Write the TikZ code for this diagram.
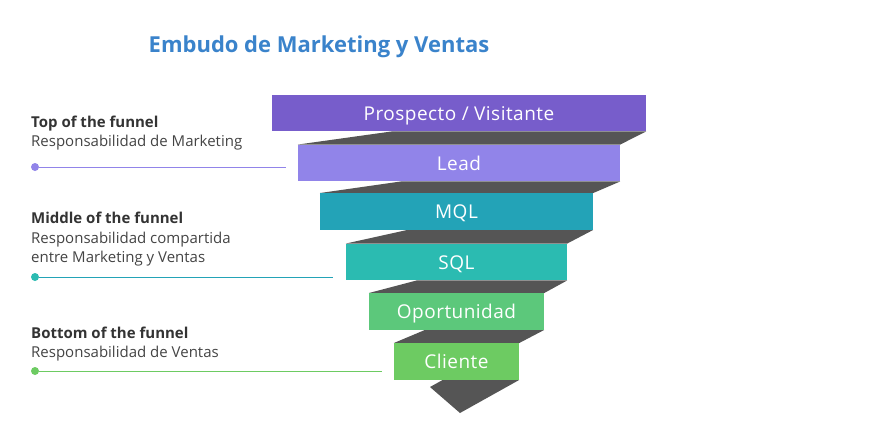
\documentclass[tikz,border=0pt]{standalone}
\usepackage{fontspec}
\setmainfont{Open Sans}[Ligatures=NoCommon]
\newfontfamily\barfont{Open Sans}[LetterSpace=2.5]
\usetikzlibrary{calc}
\definecolor{cpurA}{HTML}{775DCB}
\definecolor{cpurB}{HTML}{9184E9}
\definecolor{ctealA}{HTML}{23A3B7}
\definecolor{ctealB}{HTML}{2BBBB1}
\definecolor{cgrnA}{HTML}{5CC87B}
\definecolor{cgrnB}{HTML}{6DCB62}
\definecolor{cdark}{HTML}{555555}
\definecolor{ctitle}{HTML}{3A83CB}
\definecolor{ctext}{HTML}{333333}
\definecolor{csub}{HTML}{444444}
\tikzset{
  bar/.style={fill=#1, draw=none, minimum height=36.5pt, inner sep=0pt,
    text=white, font=\barfont\fontsize{19}{21}\selectfont, text height=14pt, text depth=0pt},
  band/.style={fill=cdark, draw=none},
  heading/.style={anchor=base west, inner sep=0pt, text=ctext, font=\bfseries\fontsize{15}{17}\selectfont},
  sub/.style={anchor=base west, inner sep=0pt, text=csub, font=\fontsize{15}{17}\selectfont},
  dot/.style={circle, fill=#1, inner sep=0pt, minimum size=8pt},
  lead/.style={draw=#1, line width=0.8pt},
}
\begin{document}
\begin{tikzpicture}[x=1pt,y=-1pt]
\useasboundingbox (0,0) rectangle (895,447);
% bars (positions)
\node[bar=cpurA, minimum width=374pt] (b1) at (459,113) {};
\node[bar=cpurB, minimum width=322pt] (b2) at (459,163) {};
\node[bar=ctealA, minimum width=273pt] (b3) at (456.5,211.5) {};
\node[bar=ctealB, minimum width=221pt] (b4) at (456.5,262) {};
\node[bar=cgrnA, minimum width=175pt] (b5) at (456.5,311.5) {};
\node[bar=cgrnB, minimum width=125pt] (b6) at (456.5,361.5) {};
% dark bands
\foreach \a/\b in {b1/b2,b2/b3,b3/b4,b4/b5,b5/b6}{
  \fill[band] ($(\a.south west)!0.32!(\a.south east)$) -- (\a.south east) -- (\b.north east) -- (\b.north west) -- cycle;
}
\coordinate (t1) at (460,413);
\coordinate (t2) at (430,387);
\fill[band] ($(b6.south west)!0.39!(b6.south east)$) -- (b6.south east) -- (t1) -- (t2) -- cycle;
% bars on top with labels
\node[bar=cpurA, minimum width=374pt] (l1) at (b1) {Prospecto / Visitante};
\node[bar=cpurB, minimum width=322pt] (l2) at (b2) {Lead};
\node[bar=ctealA, minimum width=273pt] (l3) at (b3) {MQL};
\node[bar=ctealB, minimum width=221pt] (l4) at (b4) {SQL};
\node[bar=cgrnA, minimum width=175pt] (l5) at (b5) {Oportunidad};
\node[bar=cgrnB, minimum width=125pt] (l6) at (b6) {Cliente};
% title
\node[anchor=base, inner sep=0pt, text=ctitle, font=\bfseries\fontsize{22}{24}\selectfont] (title) at (319,52) {Embudo de Marketing y Ventas};
% left labels
\node[heading] (h1) at (31,127) {Top of the funnel};
\node[sub] (s1) at (31,146) {Responsabilidad de Marketing};
\node[dot=cpurB] (d1) at (35,167) {};
\coordinate (e1) at (286,167);
\draw[lead=cpurB] (d1) -- (e1);

\node[heading] (h2) at (31,223) {Middle of the funnel};
\node[sub] (s2) at (31,243) {Responsabilidad compartida};
\node[sub] (s2b) at (31,262) {entre Marketing y Ventas};
\node[dot=ctealB] (d2) at (35,277) {};
\coordinate (e2) at (333,277);
\draw[lead=ctealA] (d2) -- (e2);

\node[heading] (h3) at (31,338) {Bottom of the funnel};
\node[sub] (s3) at (31,357) {Responsabilidad de Ventas};
\node[dot=cgrnB] (d3) at (35,371) {};
\coordinate (e3) at (382,371);
\draw[lead=cgrnB] (d3) -- (e3);
\end{tikzpicture}
\end{document}
